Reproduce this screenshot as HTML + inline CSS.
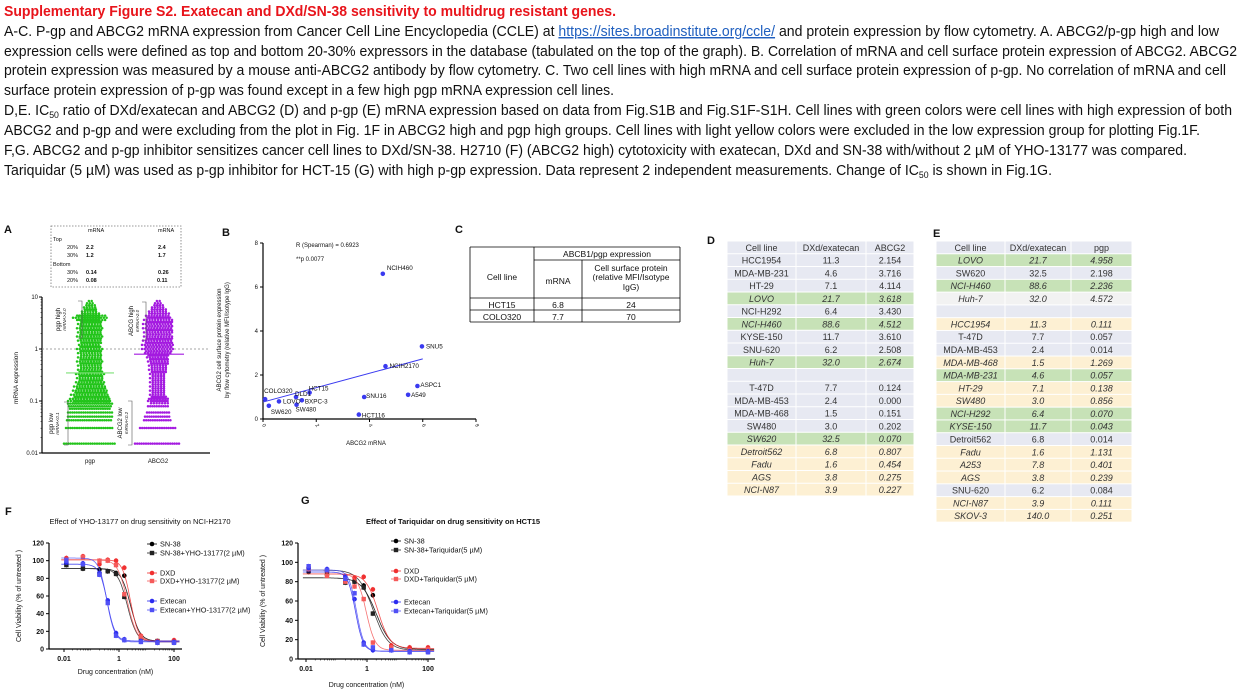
<!DOCTYPE html>
<html><head><meta charset="utf-8"><style>
html,body{margin:0;padding:0;background:#fff;}
svg{display:block;font-family:"Liberation Sans",sans-serif;}
</style></head><body>
<svg id="fig" width="1241" height="692" viewBox="0 0 1241 692" xmlns="http://www.w3.org/2000/svg">
<g font-size="14.5">
<text x="4" y="16" fill="#e8141b" font-weight="bold" textLength="612" lengthAdjust="spacingAndGlyphs">Supplementary Figure S2.  Exatecan and DXd/SN-38 sensitivity to multidrug resistant genes.</text>
<text x="4" y="36" fill="#111" textLength="1215" lengthAdjust="spacingAndGlyphs">A-C. P-gp and ABCG2 mRNA expression from Cancer Cell Line Encyclopedia (CCLE) at <tspan fill="#1f5fbf" text-decoration="underline">https://sites.broadinstitute.org/ccle/</tspan> and protein expression by flow cytometry. A. ABCG2/p-gp high and low</text>
<text x="4" y="56" fill="#111" textLength="1233" lengthAdjust="spacingAndGlyphs">expression cells were defined as top and bottom 20-30% expressors in the database (tabulated on the top of the graph). B. Correlation of mRNA and cell surface protein expression of ABCG2. ABCG2</text>
<text x="4" y="75" fill="#111" textLength="1222" lengthAdjust="spacingAndGlyphs">protein expression was measured by a mouse anti-ABCG2 antibody by flow cytometry. C. Two cell lines with high mRNA and cell surface protein expression of p-gp. No correlation of mRNA and cell</text>
<text x="4" y="95" fill="#111" textLength="610" lengthAdjust="spacingAndGlyphs">surface protein expression of p-gp was found except in a few high pgp mRNA expression cell lines.</text>
<text x="4" y="115" fill="#111" textLength="1228" lengthAdjust="spacingAndGlyphs">D,E. IC<tspan font-size="9" dy="3">50</tspan><tspan dy="-3"> ratio of DXd/exatecan and ABCG2 (D) and p-gp (E) mRNA expression based on data from Fig.S1B and Fig.S1F-S1H. Cell lines with green colors were cell lines with high expression of both</tspan></text>
<text x="4" y="135" fill="#111" textLength="1196" lengthAdjust="spacingAndGlyphs">ABCG2 and p-gp and were excluding from the plot in Fig. 1F in ABCG2 high and pgp high groups. Cell lines with light yellow colors were excluded in the low expression group for plotting Fig.1F.</text>
<text x="4" y="155" fill="#111" textLength="1183" lengthAdjust="spacingAndGlyphs">F,G. ABCG2 and p-gp inhibitor sensitizes cancer cell lines to DXd/SN-38. H2710 (F) (ABCG2 high) cytotoxicity with exatecan, DXd and SN-38 with/without 2 µM of YHO-13177 was compared.</text>
<text x="4" y="175" fill="#111" textLength="1048" lengthAdjust="spacingAndGlyphs">Tariquidar (5 µM) was used as p-gp inhibitor for HCT-15 (G) with high p-gp expression. Data represent 2 independent measurements. Change of IC<tspan font-size="9" dy="3">50</tspan><tspan dy="-3"> is shown in Fig.1G.</tspan></text>
</g>
<g id="panelA"></g>
<g id="panelB"></g>
<g id="panelC"></g>
<g id="panelD"></g>
<g id="panelE"></g>
<g id="panelF"></g>
<g id="panelG"></g>
</svg>
<script>
// ---------- data ----------
const pgpLevels = [0.88,0.8,0.72,0.64,0.6,0.56,0.48,0.4,0.32,0.24,0.16,0.08,0,-0.08,-0.16,-0.24,-0.32,-0.4,-0.48,-0.56,-0.64,-0.72,-0.8,-0.88,-0.96,-1.0,-1.05,-1.1,-1.15,-1.22,-1.3,-1.37,-1.52,-1.82];
const pgpWidths = [3,6,8,11,17,11,12,13,12,13,12,11,13,12,12,13,12,12,14,13,14,16,17,19,20,22,22,21,20,22,22,23,24,26];
const abcLevels = [0.88,0.8,0.72,0.64,0.56,0.48,0.4,0.32,0.24,0.16,0.08,0,-0.08,-0.16,-0.24,-0.32,-0.4,-0.48,-0.56,-0.64,-0.72,-0.8,-0.88,-0.96,-1.0,-1.1,-1.22,-1.3,-1.37,-1.52,-1.82];
const abcWidths = [3,6,9,12,14,15,15,14,14,15,16,16,13,11,10,9,9,8,8,8,8,8,8,9,10,10,11,13,14,18,23];
const pgpMedian = -0.46, abcMedian = -0.1;
const bNames = ["NCIH460","SNU5","NCIH2170","ASPC1","A549","SNU16","HCT116","HCT15","DLD1","BXPC-3","SW480","LOVO","COLO320","SW620"];
const bMrna  = [4.5,5.97,4.6,5.8,5.45,3.8,3.6,1.75,1.24,1.46,1.26,0.6,0.08,0.22];
const bProt  = [6.6,3.3,2.4,1.5,1.1,1.0,0.2,1.2,1.0,0.85,0.65,0.8,0.9,0.6];
const bFit = [0.77,0.327];
const bXTicks = [0,2,4,6,8], bYTicks = [0,2,4,6,8];
const dRows = [["Cell line","DXd/exatecan","ABCG2","h"],["HCC1954","11.3","2.154","b"],["MDA-MB-231","4.6","3.716","b"],["HT-29","7.1","4.114","b"],["LOVO","21.7","3.618","g"],["NCI-H292","6.4","3.430","b"],["NCI-H460","88.6","4.512","g"],["KYSE-150","11.7","3.610","b"],["SNU-620","6.2","2.508","b"],["Huh-7","32.0","2.674","g"],["","","","b"],["T-47D","7.7","0.124","b"],["MDA-MB-453","2.4","0.000","b"],["MDA-MB-468","1.5","0.151","b"],["SW480","3.0","0.202","b"],["SW620","32.5","0.070","g"],["Detroit562","6.8","0.807","y"],["Fadu","1.6","0.454","y"],["AGS","3.8","0.275","y"],["NCI-N87","3.9","0.227","y"]];
const eRows = [["Cell line","DXd/exatecan","pgp","h"],["LOVO","21.7","4.958","g"],["SW620","32.5","2.198","b"],["NCI-H460","88.6","2.236","g"],["Huh-7","32.0","4.572","w"],["","","","b"],["HCC1954","11.3","0.111","y"],["T-47D","7.7","0.057","b"],["MDA-MB-453","2.4","0.014","b"],["MDA-MB-468","1.5","1.269","y"],["MDA-MB-231","4.6","0.057","g"],["HT-29","7.1","0.138","y"],["SW480","3.0","0.856","y"],["NCI-H292","6.4","0.070","g"],["KYSE-150","11.7","0.043","g"],["Detroit562","6.8","0.014","b"],["Fadu","1.6","1.131","y"],["A253","7.8","0.401","y"],["AGS","3.8","0.239","y"],["SNU-620","6.2","0.084","b"],["NCI-N87","3.9","0.111","y"],["SKOV-3","140.0","0.251","y"]];
const conc = [0.0122,0.0488,0.195,0.39,0.78,1.56,6.25,25,100];
const fSeries = ["SN-38","SN-38+YHO-13177(2 µM)","DXD","DXD+YHO-13177(2 µM)","Extecan","Extecan+YHO-13177(2 µM)"];
const fVals = [[96,91,90,88,86,83,14,9,9],[95,91,85,88,85,59,13,9,8],[103,105,96,101,100,92,15,9,10],[101,104,100,100,95,62,14,8,8],[98,97,86,55,18,11,9,8,8],[100,96,84,52,15,10,8,7,7]];
const fTop = [91,91,101,101,96,103], fBot = [9,8,9,8,9,8], fIC = [2.6,2.0,2.6,2.0,0.38,0.36], fHill = [2.5,2.5,3,2.5,3,3];
const gSeries = ["SN-38","SN-38+Tariquidar(5 µM)","DXD","DXD+Tariquidar(5 µM)","Extecan","Extecan+Tariquidar(5 µM)"];
const gVals = [[90,87,80,80,76,66,13,11,9],[93,90,79,80,74,47,12,10,8],[95,91,86,84,85,72,14,12,12],[93,86,80,75,62,17,12,9,10],[94,93,85,62,17,9,9,8,8],[96,92,83,68,15,12,9,7,7]];
const gTop = [84,92,88,88,90,92], gBot = [10,9,11,9,8,8], gIC = [2.0,1.6,2.3,0.95,0.42,0.45], gHill = [1.8,1.8,2.2,3,3.5,3.5];
const yTicksDR = [0,20,40,60,80,100,120];
const xTicksDR = [0.01,1,100];
const xTickLabelsDR = ["0.01","1","100"];

const NS="http://www.w3.org/2000/svg";
function mk(parent, tag, attrs, txt){
  const e=document.createElementNS(NS,tag);
  for(const k in attrs) e.setAttribute(k,attrs[k]);
  if(txt!==undefined) e.textContent=txt;
  parent.appendChild(e); return e;
}
function label(parent,x,y,t,size,extra){
  return mk(parent,"text",Object.assign({x:x,y:y,"font-size":size||8,fill:"#111"},extra||{}),t);
}

(function(){
  const g=document.getElementById("panelA");
  let t=label(g,4,233,"A",11,{"font-weight":"bold"});
  
  
  const box=mk(g,"rect",{x:51,y:226,width:130,height:61,fill:"none",stroke:"#777","stroke-dasharray":"1.5,1.5","stroke-width":0.8});
  
  
  const tx=[[88,232,"mRNA",0],[158,232,"mRNA",0],[53,241,"Top",0],[67,249,"20%",0],[86,249,"2.2",1],[158,249,"2.4",1],[67,257,"30%",0],[86,257,"1.2",1],[158,257,"1.7",1],[53,266,"Bottom",0],[67,274,"30%",0],[86,274,"0.14",1],[158,274,"0.26",1],[67,282,"20%",0],[86,282,"0.08",1],[157,282,"0.11",1]];
  tx.forEach(a=>{const e=label(g,a[0],a[1],a[2],5.5,a[3]?{"font-weight":"bold"}:{});
    
    });
  const X0=42,X1=210,ytop=297,ybot=453;
  const yA=v=>ytop+(1-v)*(ybot-ytop)/3;
  mk(g,"line",{x1:X0,y1:ytop,x2:X0,y2:ybot,stroke:"#000","stroke-width":1.2});
  mk(g,"line",{x1:X0,y1:ybot,x2:X1,y2:ybot,stroke:"#000","stroke-width":1.2});
  [1,0,-1,-2].forEach((v,i)=>{mk(g,"line",{x1:X0-3,y1:yA(v),x2:X0,y2:yA(v),stroke:"#000"});
    const e=label(g,X0-4,yA(v)+2,["10","1","0.1","0.01"][i],6,{"text-anchor":"end"});
    
    });
  for(let d=-2;d<1;d++)for(let k=2;k<10;k++){const yy=yA(d+Math.log10(k));mk(g,"line",{x1:X0-1.5,y1:yy,x2:X0,y2:yy,stroke:"#000","stroke-width":0.5});}
  mk(g,"line",{x1:X0,y1:yA(0),x2:X1,y2:yA(0),stroke:"#888","stroke-dasharray":"2,2","stroke-width":0.8});
  t=label(g,0,0,"mRNA expression",6.5,{transform:"translate(18,378) rotate(-90)","text-anchor":"middle"});
  
  
  function cloud(levels,widths,cx,col,name){
    const cg=mk(g,"g",{fill:col});
    
    
    for(let i=0;i<levels.length;i++){
      const y=yA(levels[i]);
      const cont = levels[i]>-1.02;
      const rows = cont? [-2,0,2]:[0];
      rows.forEach(r=>{
        const w=widths[i]*(cont?(1-Math.abs(r)*0.08):1);
        const st = cont?2.8:2.2;
        for(let x=-w;x<=w;x+=st) mk(cg,"circle",{cx:cx+x+(r?1.4:0),cy:y+r*1.1,r:1.25});
      });
    }
  }
  cloud(pgpLevels,pgpWidths,90,"#22c41a","pgp-dots");
  cloud(abcLevels,abcWidths,158,"#a41ae0","abcg2-dots");
  mk(g,"line",{x1:66,y1:yA(pgpMedian),x2:114,y2:yA(pgpMedian),stroke:"#7ee078","stroke-width":1.2});
  mk(g,"line",{x1:134,y1:yA(abcMedian),x2:184,y2:yA(abcMedian),stroke:"#a41ae0","stroke-width":1.2});
  [["pgp",90],["ABCG2",158]].forEach(a=>{const e=label(g,a[1],463,a[0],6,{"text-anchor":"middle"});
    
    });
  function bracket(x,y1,y2,l1,l2,tx){
    mk(g,"polyline",{points:`${x-4},${y1} ${x},${y1} ${x},${y2} ${x-4},${y2}`,fill:"none",stroke:"#555","stroke-width":0.6});
    const m=(y1+y2)/2;
    const e=label(g,0,0,l1,6,{transform:`translate(${tx},${m}) rotate(-90)`,"text-anchor":"middle"});
    
    
    label(g,0,0,l2,4.5,{transform:`translate(${tx+6},${m}) rotate(-90)`,"text-anchor":"middle","font-style":"italic"});
  }
  bracket(82,301,338,"pgp high","mRNA>2.0",60);
  bracket(68,402,445,"pgp low","mRNA<0.1",53);
  bracket(146,302,340,"ABCG high","mRNA>2.0",133);
  bracket(132,401,445,"ABCG2 low","mRNA<0.2",122);
})();

(function(){
  const g=document.getElementById("panelB");
  let t=label(g,222,236,"B",11,{"font-weight":"bold"});
  
  
  const X0=263,X1=476,Y0=419,Y1=243;
  const xs=v=>X0+v*(X1-X0)/8, ys=v=>Y0-v*(Y0-Y1)/8;
  mk(g,"line",{x1:X0,y1:Y1,x2:X0,y2:Y0,stroke:"#000","stroke-width":1.2});
  mk(g,"line",{x1:X0,y1:Y0,x2:X1,y2:Y0,stroke:"#000","stroke-width":1.2});
  bYTicks.forEach(v=>{mk(g,"line",{x1:X0-3,y1:ys(v),x2:X0,y2:ys(v),stroke:"#000"});
    const e=label(g,X0-5,ys(v)+2,String(v),6,{"text-anchor":"end"});
    
    });
  bXTicks.forEach(v=>{mk(g,"line",{x1:xs(v),y1:Y0,x2:xs(v),y2:Y0+3,stroke:"#000"});
    const e=label(g,0,0,String(v),5,{transform:`translate(${xs(v)-1},${Y0+6}) rotate(60)`});
    
    });
  t=label(g,366,445,"ABCG2 mRNA",6,{"text-anchor":"middle"});
  
  
  t=label(g,0,0,"ABCG2 cell surface protein expression",6,{transform:"translate(221,340) rotate(-90)","text-anchor":"middle"});
  
  
  label(g,0,0,"by flow cytometry (relative MFI/Isotype IgG)",6,{transform:"translate(229,340) rotate(-90)","text-anchor":"middle"});
  t=label(g,296,247,"R (Spearman) = 0.6923",6);
  
  
  label(g,296,261,"**p 0.0077",6);
  const ln=mk(g,"line",{x1:xs(0),y1:ys(bFit[0]),x2:xs(6),y2:ys(bFit[0]+6*bFit[1]),stroke:"#3a3af0","stroke-width":1});
  
  
  const off={"NCIH460":[4,-4],"SNU5":[4,2],"NCIH2170":[4,2],"ASPC1":[3,1],"A549":[3,2],"SNU16":[2,1],"HCT116":[3,3],"HCT15":[-1,-2],"DLD1":[-1,-1],"BXPC-3":[3,3],"SW480":[-1,7],"LOVO":[4,2],"COLO320":[-1,-6],"SW620":[2,8]};
  bNames.forEach((n,i)=>{
    const c=mk(g,"circle",{cx:xs(bMrna[i]),cy:ys(bProt[i]),r:2.3,fill:"#3a3af0"});
    
    
    const o=off[n]||[3,2];
    label(g,xs(bMrna[i])+o[0],ys(bProt[i])+o[1],n,6.3);
  });
})();

(function(){
  const g=document.getElementById("panelC");
  let t=label(g,455,233,"C",11,{"font-weight":"bold"});
  
  
  const L=[[470,247,680,247],[534,260,680,260],[470,298,680,298],[470,310,680,310],[470,322,680,322],[470,247,470,322],[534,247,534,322],[582,260,582,322],[680,247,680,322]];
  L.forEach(a=>mk(g,"line",{x1:a[0],y1:a[1],x2:a[2],y2:a[3],stroke:"#000","stroke-width":0.8}));
  const T=[[607,257,"ABCB1/pgp expression"],[502,280,"Cell line"],[558,284,"mRNA"],[631,271,"Cell surface protein"],[631,280,"(relative MFI/Isotype"],[631,290,"IgG)"],[502,308,"HCT15"],[558,308,"6.8"],[631,308,"24"],[502,320,"COLO320"],[558,320,"7.7"],[631,320,"70"]];
  T.forEach(a=>{const e=label(g,a[0],a[1],a[2],8.5,{"text-anchor":"middle"});
    
    });
})();

function table(id,letter,lx,ly,rows,cols,top,rh){
  const g=document.getElementById(id);
  let t=label(g,lx,ly,letter,11,{"font-weight":"bold"});
  
  
  const fills={h:"#e7e9f2",b:"#e7e9f2",g:"#c7e2b7",y:"#fdf0d3",w:"#f2f2f2"};
  rows.forEach((r,i)=>{
    const y=top+i*rh;
    for(let c=0;c<3;c++){
      mk(g,"rect",{x:cols[c]+0.5,y:y+0.5,width:cols[c+1]-cols[c]-1,height:rh-1,fill:fills[r[3]]});
      const it=(r[3]==="g"||r[3]==="y"||r[3]==="w");
      const e=label(g,(cols[c]+cols[c+1])/2,y+rh-3,r[c],9,{"text-anchor":"middle",fill:"#333","font-style":it?"italic":"normal"});
      
      
    }
  });
}
table("panelD","D",707,244,dRows,[727,796,866,914],241,12.75);
table("panelE","E",933,237,eRows,[936,1005,1071,1132],241,12.78);

function dose(id,cfg){
  const g=document.getElementById(id);
  const {X0,X1,Y0,Ytop,x001,x100}=cfg;
  const xs=v=>x001+(Math.log10(v)+2)*(x100-x001)/4;
  const ys=v=>Y0-v*(Y0-Ytop)/120;
  let t=label(g,cfg.lx,cfg.ly,cfg.letter,11,{"font-weight":"bold"});
  
  
  t=label(g,cfg.tx,524,cfg.title,7.5,cfg.titleBold?{"font-weight":"bold","text-anchor":"middle"}:{"text-anchor":"middle"});
  
  
  mk(g,"line",{x1:X0,y1:Ytop,x2:X0,y2:Y0,stroke:"#000","stroke-width":1.2});
  mk(g,"line",{x1:X0,y1:Y0,x2:X1,y2:Y0,stroke:"#000","stroke-width":1.2});
  yTicksDR.forEach(v=>{mk(g,"line",{x1:X0-3,y1:ys(v),x2:X0,y2:ys(v),stroke:"#000"});
    const e=label(g,X0-5,ys(v)+2.5,String(v),7,{"text-anchor":"end","font-weight":"bold"});
    
    });
  xTicksDR.forEach((v,i)=>{mk(g,"line",{x1:xs(v),y1:Y0,x2:xs(v),y2:Y0+3,stroke:"#000"});
    const e=label(g,xs(v),Y0+12,xTickLabelsDR[i],7,{"text-anchor":"middle","font-weight":"bold"});
    
    });
  for(let d=-2;d<2;d++)for(let k=2;k<10;k++){const xx=xs(Math.pow(10,d)*k);mk(g,"line",{x1:xx,y1:Y0,x2:xx,y2:Y0+1.5,stroke:"#000","stroke-width":0.5});}
  t=label(g,(X0+X1)/2,cfg.xty,"Drug concentration (nM)",7,{"text-anchor":"middle"});
  
  
  t=label(g,0,0,"Cell Viability (% of untreated )",7,{transform:`translate(${cfg.ytx},${(Y0+Ytop)/2}) rotate(-90)`,"text-anchor":"middle"});
  
  
  const cols=["#000","#222","#f03030","#f55a5a","#2c2cf0","#5050f5"];
  cfg.vals.forEach((vals,s)=>{
    let d="";
    for(let i=0;i<=120;i++){const lx=-2.1+i*4.3/120,x=Math.pow(10,lx);
      const y=cfg.bot[s]+(cfg.top[s]-cfg.bot[s])/(1+Math.pow(x/cfg.ic[s],cfg.hill[s]));
      d+=(i?"L":"M")+xs(x).toFixed(1)+","+ys(y).toFixed(1);}
    const p=mk(g,"path",{d:d,fill:"none",stroke:cols[s],"stroke-width":0.8,opacity:0.85});
    
    
    vals.forEach((v,i)=>{
      const cx=xs(conc[i]),cy=ys(v);
      mk(g,"line",{x1:cx,y1:cy-2.5,x2:cx,y2:cy+2.5,stroke:cols[s],"stroke-width":0.6});
      const m = s%2===0? mk(g,"circle",{cx:cx,cy:cy,r:2.3,fill:cols[s]}) : mk(g,"rect",{x:cx-2.2,y:cy-2.2,width:4.4,height:4.4,fill:cols[s]});
      
      
    });
    const ly=cfg.legY[s];
    mk(g,"line",{x1:cfg.legX-5,y1:ly,x2:cfg.legX+5,y2:ly,stroke:cols[s],"stroke-width":0.8});
    if(s%2===0) mk(g,"circle",{cx:cfg.legX,cy:ly,r:2.3,fill:cols[s]}); else mk(g,"rect",{x:cfg.legX-2.2,y:ly-2.2,width:4.4,height:4.4,fill:cols[s]});
    const e=label(g,cfg.legX+8,ly+2.5,cfg.names[s],7.3,{});
    
    
  });
}
dose("panelF",{letter:"F",lx:5,ly:515,title:"Effect of YHO-13177 on drug sensitivity on NCI-H2170",tx:140,titleBold:false,X0:49,X1:182,Y0:649,Ytop:543,x001:64,x100:174,xty:674,ytx:21,vals:fVals,top:fTop,bot:fBot,ic:fIC,hill:fHill,names:fSeries,legX:152,legY:[544,553,573,581,601,610]});
dose("panelG",{letter:"G",lx:301,ly:504,title:"Effect of Tariquidar on drug sensitivity on HCT15",tx:453,titleBold:true,X0:298,X1:435,Y0:659,Ytop:543,x001:306,x100:428,xty:687,ytx:265,vals:gVals,top:gTop,bot:gBot,ic:gIC,hill:gHill,names:gSeries,legX:396,legY:[541,550,571,579,602,611]});
</script>
</body></html>
